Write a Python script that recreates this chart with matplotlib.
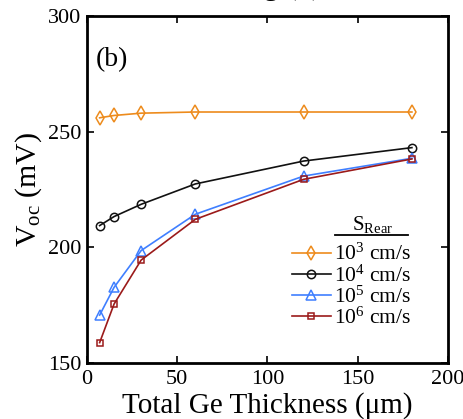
import numpy as np
import matplotlib
matplotlib.use("Agg")
import matplotlib.pyplot as plt
from matplotlib.lines import Line2D

plt.rcParams['font.family'] = ['Liberation Serif', 'DejaVu Serif']
plt.rcParams['mathtext.fontset'] = 'custom'
plt.rcParams['mathtext.rm'] = 'Liberation Serif'
plt.rcParams['mathtext.it'] = 'Liberation Serif'

thickness = [7, 15, 30, 60, 120, 180]
voc_1e3 = [256, 257, 258, 258.5, 258.5, 258.5]
voc_1e4 = [209.4, 213.3, 218.6, 227.4, 237.3, 243.1]
voc_1e5 = [170.7, 182.7, 198.6, 214.3, 230.8, 238.5]
voc_1e6 = [158.8, 175.5, 194.5, 212.1, 229.4, 238.2]
labels = ['$10^3$ cm/s', '$10^4$ cm/s', '$10^5$ cm/s', '$10^6$ cm/s']

colors = ['#ed8b1c', '#111111', '#3f7fff', '#9b1a1a']
markers = ['d', 'o', '^', 's']
msizes = [7, 6, 6.5, 5]

W, H = 464, 419
fig = plt.figure(figsize=(W/100, H/100), dpi=100)
ax = fig.add_axes([87/W, 1 - 363/H, (448-87)/W, (363-16)/H])

series = [voc_1e3, voc_1e4, voc_1e5, voc_1e6]
handles = []
for y, c, m, ms, lab in zip(series, colors, markers, msizes, labels):
    ln, = ax.plot(thickness, y, color=c, marker=m, markersize=ms,
                  markerfacecolor='none', markeredgecolor=c,
                  markeredgewidth=1.1, linewidth=1.2, label=lab)
    handles.append(ln)

ax.set_xlim(0, 200)
ax.set_ylim(150, 300)
ax.set_xticks([0, 50, 100, 150, 200])
ax.set_yticks([150, 200, 250, 300])
ax.tick_params(direction='in', top=True, right=True, length=5, width=1.2,
               labelsize=16)
ax.tick_params(axis='x', pad=5)
ax.tick_params(axis='y', pad=4)
for s in ax.spines.values():
    s.set_linewidth(2)

ax.set_xlabel('Total Ge Thickness (\u03bcm)', fontsize=21, labelpad=2)
ax.set_ylabel('V$_{\\rm oc}$ (mV)', fontsize=21.5, labelpad=3)

ax.text(0.025, 0.855, '(b)', transform=ax.transAxes, fontsize=20)

leg = ax.legend(handles=handles, loc='upper left',
                bbox_to_anchor=(292/W, 1 - 244/H), bbox_transform=fig.transFigure,
                frameon=False, fontsize=15.5, handlelength=1.8, handletextpad=0.15,
                labelspacing=0.0, borderpad=0, borderaxespad=0)

# legend title with underline
fig.text(373/W, 1 - 224/H, 'S$_{\\rm Rear}$', fontsize=15, ha='center', va='center')
fig.add_artist(Line2D([335/W, 408/W], [1 - 235/H, 1 - 235/H],
                      color='black', linewidth=1.3))

# clipped title from the figure above
fig.text(0.695, 1.015, 'Thinning (b)', fontsize=22, ha='right', va='baseline')

fig.savefig('out.png', dpi=100)
